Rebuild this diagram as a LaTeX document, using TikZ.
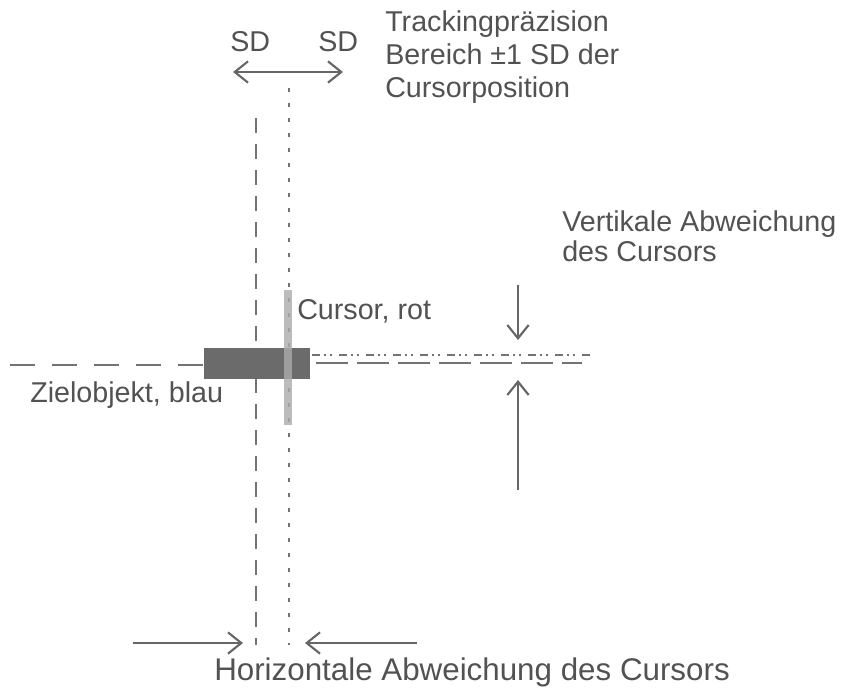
\documentclass[tikz,border=0pt]{standalone}
\usepackage{fontspec}
\setmainfont{Liberation Sans}
\usetikzlibrary{arrows.meta}
\begin{document}
\begin{tikzpicture}[x=0.75pt,y=-0.75pt,
  lbl/.style={font=\fontsize{21.5}{26}\selectfont, text=black!68, inner sep=0pt, anchor=base west},
  arr/.style={draw=black!60, line width=1.6pt, -{Straight Barb[length=10pt,width=16pt,line width=1.6pt]}},
  dblarr/.style={draw=black!60, line width=1.6pt, {Straight Barb[length=10pt,width=16pt,line width=1.6pt]}-{Straight Barb[length=10pt,width=16pt,line width=1.6pt]}},
  tline/.style={draw=black!55, line width=2.2pt, dash pattern=on 11.5pt off 8pt},
  cline/.style={draw=black!55, line width=2pt, dash pattern=on 3pt off 8.25pt},
  thline/.style={draw=black!55, line width=1.8pt, dash pattern=on 18.75pt off 12.75pt},
  thline2/.style={draw=black!55, line width=1.8pt, dash pattern=on 24pt off 6.75pt},
  chline/.style={draw=black!55, line width=1.8pt, dash pattern=on 6pt off 3pt on 1.5pt off 3pt on 1.5pt off 5.25pt},
]
\useasboundingbox (0,0) rectangle (851,692);

% lines
\coordinate (tTop) at (256,118);
\coordinate (tBot) at (256,645);
\coordinate (cTop) at (289,88);
\coordinate (cBot) at (289,645);
\draw[tline] (tTop) -- (tBot);
\draw[cline] (cTop) -- (cBot);

\coordinate (hL) at (10,365);
\coordinate (hLe) at (206,365);
\coordinate (hR) at (316,363);
\coordinate (hRe) at (582,363);
\coordinate (dR) at (312,355);
\coordinate (dRe) at (590,355);
\draw[thline] (hL) -- (hLe);
\draw[thline2] (hR) -- (hRe);
\draw[chline] (dR) -- (dRe);

% target and cursor
\node[fill=black!58, draw=none, minimum width=106*0.75pt, minimum height=31*0.75pt, inner sep=0pt] (target) at (257,363.5) {};
\node[fill=black!33, fill opacity=0.8, draw=none, minimum width=8*0.75pt, minimum height=135*0.75pt, inner sep=0pt] (cursor) at (288,357.5) {};

% arrows
\coordinate (sdA) at (233,72);
\coordinate (sdB) at (343,72);
\draw[dblarr] (sdA) -- (sdB);

\coordinate (vdS) at (518,285);
\coordinate (vdE) at (518,340);
\coordinate (vuS) at (518,490);
\coordinate (vuE) at (518,380);
\draw[arr] (vdS) -- (vdE);
\draw[arr] (vuS) -- (vuE);

\coordinate (hlS) at (133,643);
\coordinate (hlE) at (243,643);
\coordinate (hrS) at (417,643);
\coordinate (hrE) at (305,643);
\draw[arr] (hlS) -- (hlE);
\draw[arr] (hrS) -- (hrE);

% labels
\node[lbl] (track) at (385,32) {Trackingpräzision};
\node[lbl] (bereich) at (385,65) {Bereich ±1 SD der};
\node[lbl] (cpos) at (385,98) {Cursorposition};
\node[lbl] (sdl) at (230,52) {SD};
\node[lbl] (sdr) at (318,52) {SD};
\node[lbl] (vert1) at (562,231) {Vertikale Abweichung};
\node[lbl] (vert2) at (562,262) {des Cursors};
\node[lbl] (cur) at (297,320) {Cursor, rot};
\node[lbl] (ziel) at (30,402) {Zielobjekt, blau};
\node[lbl, font=\fontsize{23.5}{28}\selectfont] (horiz) at (214,680) {Horizontale Abweichung des Cursors};
\end{tikzpicture}
\end{document}
